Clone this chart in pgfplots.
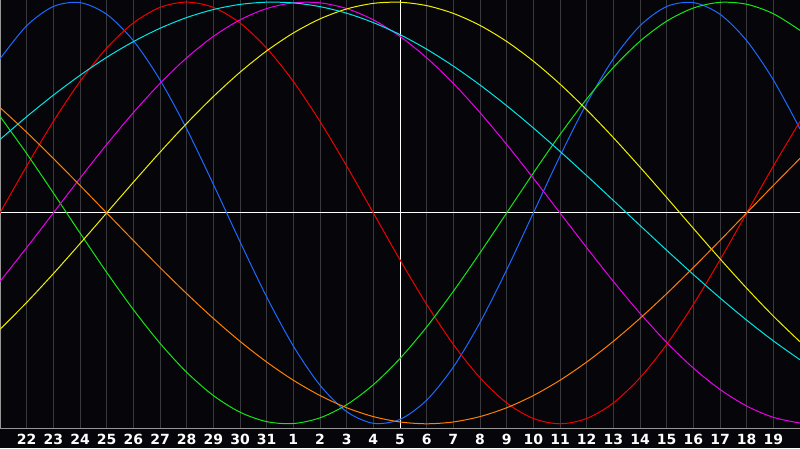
\documentclass[border=0pt]{standalone}
\usepackage{fontspec}
\setmainfont{DejaVu Sans}
\usepackage{pgfplots}
\pgfplotsset{compat=1.18}
\usetikzlibrary{backgrounds}

\definecolor{bgc}{RGB}{5,5,10}
\definecolor{gridc}{RGB}{58,58,62}
\definecolor{framec}{RGB}{150,150,150}
\definecolor{cblue}{RGB}{30,105,255}
\definecolor{cred}{RGB}{240,0,0}
\definecolor{cgreen}{RGB}{20,230,20}
\definecolor{cmag}{RGB}{235,0,235}
\definecolor{cyel}{RGB}{240,240,0}
\definecolor{corange}{RGB}{255,128,0}
\definecolor{ccyan}{RGB}{0,230,230}

\begin{document}
\begin{tikzpicture}
\begin{axis}[
  name=ax,
  scale only axis,
  width=400pt,height=214pt,
  xmin=0,xmax=30,
  ymin=-1.02,ymax=1.01,
  enlargelimits=false,
  axis background/.style={fill=bgc},
  axis line style={draw=framec,line width=.5pt},
  major tick length=0pt,
  ytick=\empty,
  xtick={1,...,29},
  xticklabels={22,23,24,25,26,27,28,29,30,31,1,2,3,4,5,6,7,8,9,10,11,12,13,14,15,16,17,18,19},
  xticklabel style={font=\bfseries\fontsize{7}{8}\selectfont,text=white,anchor=center,yshift=-5.6pt},
  xmajorgrids,
  grid style={draw=gridc,line width=.5pt},
  every axis plot/.append style={line width=.5pt,mark=none,smooth},
]
\draw[white,line width=.5pt] (axis cs:0,0) -- (axis cs:30,0);
\draw[white,line width=.5pt] (axis cs:15,-1.02) -- (axis cs:15,1.01);
% 23 days
\addplot[cblue] coordinates {(0,.7308) (1,.8879) (2,.9791) (3,.9977) (4,.9423) (5,.8170) (6,.6311) (7,.3984) (8,.1362) (9,-.1362) (10,-.3984) (11,-.6311) (12,-.8170) (13,-.9423) (14,-.9977) (15,-.9791) (16,-.8879) (17,-.7308) (18,-.5196) (19,-.2698) (20,0) (21,.2698) (22,.5196) (23,.7308) (24,.8879) (25,.9791) (26,.9977) (27,.9423) (28,.8170) (29,.6311) (30,.3984)};
% 28 days
\addplot[cred] coordinates {(0,0) (1,.2225) (2,.4339) (3,.6235) (4,.7818) (5,.9010) (6,.9749) (7,1) (8,.9749) (9,.9010) (10,.7818) (11,.6235) (12,.4339) (13,.2225) (14,0) (15,-.2225) (16,-.4339) (17,-.6235) (18,-.7818) (19,-.9010) (20,-.9749) (21,-1) (22,-.9749) (23,-.9010) (24,-.7818) (25,-.6235) (26,-.4339) (27,-.2225) (28,0) (29,.2225) (30,.4339)};
% 33 days
\addplot[cgreen] coordinates {(0,.4582) (1,.2817) (2,.0950) (3,-.0950) (4,-.2817) (5,-.4582) (6,-.6182) (7,-.7557) (8,-.8660) (9,-.9450) (10,-.9898) (11,-.9989) (12,-.9718) (13,-.9096) (14,-.8146) (15,-.6901) (16,-.5406) (17,-.3717) (18,-.1893) (19,0) (20,.1893) (21,.3717) (22,.5406) (23,.6901) (24,.8146) (25,.9096) (26,.9718) (27,.9989) (28,.9898) (29,.9450) (30,.8660)};
% 38 days
\addplot[cmag] coordinates {(0,-.3247) (1,-.1646) (2,0) (3,.1646) (4,.3247) (5,.4759) (6,.6142) (7,.7357) (8,.8372) (9,.9158) (10,.9694) (11,.9966) (12,.9966) (13,.9694) (14,.9158) (15,.8372) (16,.7357) (17,.6142) (18,.4759) (19,.3247) (20,.1646) (21,0) (22,-.1646) (23,-.3247) (24,-.4759) (25,-.6142) (26,-.7357) (27,-.8372) (28,-.9158) (29,-.9694) (30,-.9966)};
% 43 days
\addplot[cyel] coordinates {(0,-.5518) (1,-.4245) (2,-.2881) (3,-.1456) (4,0) (5,.1456) (6,.2881) (7,.4245) (8,.5518) (9,.6673) (10,.7686) (11,.8535) (12,.9204) (13,.9675) (14,.9940) (15,.9993) (16,.9833) (17,.9464) (18,.8894) (19,.8133) (20,.7200) (21,.6111) (22,.4894) (23,.3572) (24,.2174) (25,.0731) (26,-.0731) (27,-.2174) (28,-.3572) (29,-.4894) (30,-.6111)};
% 48 days
\addplot[corange] coordinates {(0,.5) (1,.3827) (2,.2588) (3,.1305) (4,0) (5,-.1305) (6,-.2588) (7,-.3827) (8,-.5) (9,-.6088) (10,-.7071) (11,-.7934) (12,-.8660) (13,-.9239) (14,-.9659) (15,-.9914) (16,-1) (17,-.9914) (18,-.9659) (19,-.9239) (20,-.8660) (21,-.7934) (22,-.7071) (23,-.6088) (24,-.5) (25,-.3827) (26,-.2588) (27,-.1305) (28,0) (29,.1305) (30,.2588)};
% 53 days
\addplot[ccyan] coordinates {(0,.3482) (1,.4566) (2,.5586) (3,.6527) (4,.7380) (5,.8124) (6,.8758) (7,.9267) (8,.9647) (9,.9890) (10,.9996) (11,.9961) (12,.9785) (13,.9473) (14,.9028) (15,.8457) (16,.7767) (17,.6965) (18,.6068) (19,.5086) (20,.4031) (21,.2920) (22,.1769) (23,.0593) (24,-.0593) (25,-.1769) (26,-.2920) (27,-.4031) (28,-.5086) (29,-.6068) (30,-.6965)};
\end{axis}
\begin{scope}[on background layer]
\fill[bgc] ([yshift=-10pt]ax.south west) rectangle (ax.north east);
\end{scope}
\pgfresetboundingbox
\path[use as bounding box] ([yshift=-10pt]ax.south west) rectangle (ax.north east);
\end{tikzpicture}
\end{document}
